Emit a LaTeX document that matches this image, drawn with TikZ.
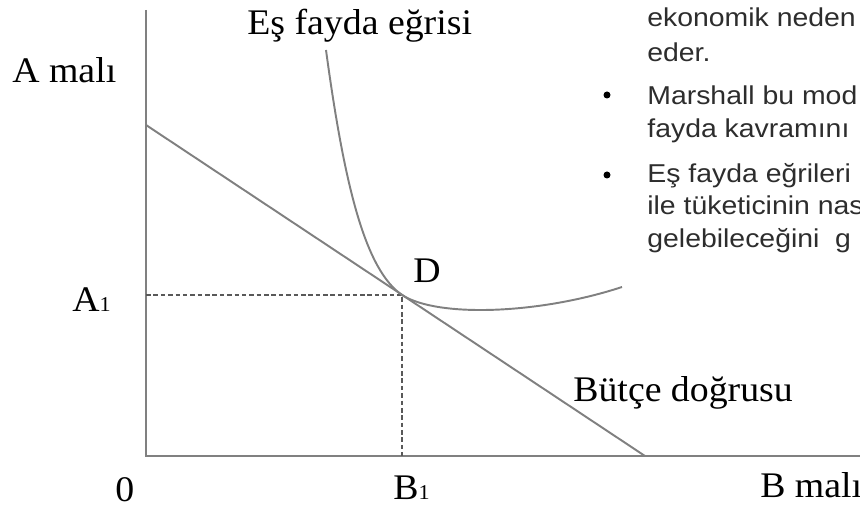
\documentclass[tikz,border=0pt]{standalone}
\usepackage{fontspec}
\setmainfont{Liberation Serif}[FakeStretch=1.05]
\newfontfamily\slidefont{Liberation Sans}[FakeStretch=1.1]
\definecolor{axisgray}{RGB}{128,128,128}
\definecolor{slidetext}{RGB}{45,45,45}

\begin{document}
\begin{tikzpicture}[
  x=0.02cm, y=-0.02cm,
  axis/.style={draw=axisgray, line width=1.1pt},
  utilcurve/.style={draw=axisgray, line width=1.1pt},
  guide/.style={draw=black!65, line width=0.8pt, dash pattern=on 2.6pt off 1.6pt},
  lbl/.style={anchor=base west, inner sep=0pt, font=\fontsize{20.5}{24}\selectfont},
  slide/.style={anchor=base west, inner sep=0pt, text=slidetext,
    font=\slidefont\fontsize{14.7}{17}\selectfont}
]
\clip (0,0) rectangle (860,509);

% axes and budget line
\coordinate (O) at (146,456);
\coordinate (yTop) at (146,10);
\coordinate (xEnd) at (862,456);
\coordinate (budA) at (146,125);
\coordinate (budB) at (645,456);
\coordinate (D) at (402,295);
\coordinate (icTop) at (326,50);
\coordinate (icEnd) at (622,287);
\coordinate (Aone) at (146,295);
\coordinate (Bone) at (402,456);

\draw[axis] (yTop) -- (O) -- (xEnd);
\draw[axis] (budA) -- (budB);
\draw[guide] (Aone) -- (D) -- (Bone);
\draw[utilcurve] (icTop) .. controls (345,190) and (366,270) .. (D)
  .. controls (438,318) and (540,314) .. (icEnd);

% labels
\node[lbl] (amali) at (12,83) {A malı};
\node[lbl] (esfayda) at (247,35) {Eş fayda eğrisi};
\node[lbl] (aone) at (72,312) {A{\fontsize{12}{12}\selectfont 1}};
\node[lbl] (dlbl) at (413,283) {D};
\node[lbl] (zero) at (115,502) {0};
\node[lbl] (bone) at (393,500) {B{\fontsize{12}{12}\selectfont 1}};
\node[lbl] (butce) at (573,402) {Bütçe doğrusu};
\node[lbl] (bmali) at (760,498) {B malı};

% slide text
\node[slide] (line1) at (647,27) {ekonomik neden};
\node[slide] (line2) at (647,62) {eder.};
\node[slide] (line3) at (647,105) {Marshall bu mod};
\node[slide] (line4) at (647,138) {fayda kavramını};
\node[slide] (line5) at (647,183) {Eş fayda eğrileri};
\node[slide] (line6) at (647,215) {ile tüketicinin nas};
\node[slide] (line7) at (647,248) {gelebileceğini\ \ g};
\fill[black] (607,95) circle[radius=0.07cm];
\fill[black] (607,175) circle[radius=0.07cm];
\end{tikzpicture}
\end{document}
